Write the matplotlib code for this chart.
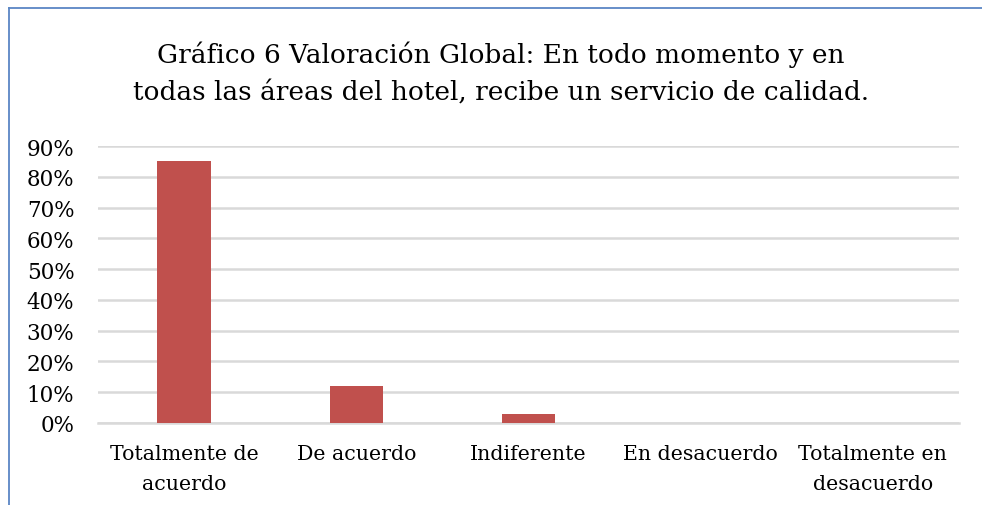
import matplotlib
matplotlib.use("Agg")
import matplotlib.pyplot as plt
from matplotlib.lines import Line2D
from matplotlib.ticker import PercentFormatter

categories = ["Totalmente de\nacuerdo", "De acuerdo", "Indiferente",
              "En desacuerdo", "Totalmente en\ndesacuerdo"]
values = [0.85, 0.12, 0.03, 0.0, 0.0]
yticks = [0.0, 0.1, 0.2, 0.3, 0.4, 0.5, 0.6, 0.7, 0.8, 0.9]
title = ("Gráfico 6 Valoración Global: En todo momento y en\n"
         "todas las áreas del hotel, recibe un servicio de calidad.")

W, H = 982, 506
fig = plt.figure(figsize=(W / 100, H / 100), dpi=100)
plt.rcParams["font.family"] = ["DejaVu Serif"]

ax = fig.add_axes([98 / W, 1 - 424 / H, (959 - 98) / W, (424 - 147) / H])
x = list(range(len(categories)))
ax.bar(x, values, width=0.31, color="#C0504D", zorder=3)

ax.set_xlim(-0.5, len(categories) - 0.5)
ax.set_ylim(0, 0.9)
ax.set_yticks(yticks)
ax.yaxis.set_major_formatter(PercentFormatter(1.0, decimals=0))
ax.set_xticks(x)
ax.set_xticklabels(categories, linespacing=1.72)
ax.tick_params(axis="both", length=0, colors="#000000")
ax.tick_params(axis="y", pad=17, labelsize=15.5)
ax.tick_params(axis="x", pad=15, labelsize=14.8)
ax.grid(axis="y", color="#D9D9D9", linewidth=1.8, zorder=0)
for s in ("left", "right", "top"):
    ax.spines[s].set_visible(False)
ax.spines["bottom"].set_color("#D9D9D9")
ax.spines["bottom"].set_linewidth(1.8)

fig.text(501 / W, 1 - 73 / H, title, ha="center", va="center",
         fontsize=19, linespacing=1.55)

# frame lines at the top and left edges
fig.add_artist(Line2D([9 / W, 1], [1 - 9 / H, 1 - 9 / H], transform=fig.transFigure,
                      color="#5B86C5", linewidth=1.3))
fig.add_artist(Line2D([9 / W, 9 / W], [1 - 9 / H, 0], transform=fig.transFigure,
                      color="#5B86C5", linewidth=1.3))

fig.savefig("out.png", dpi=100)
